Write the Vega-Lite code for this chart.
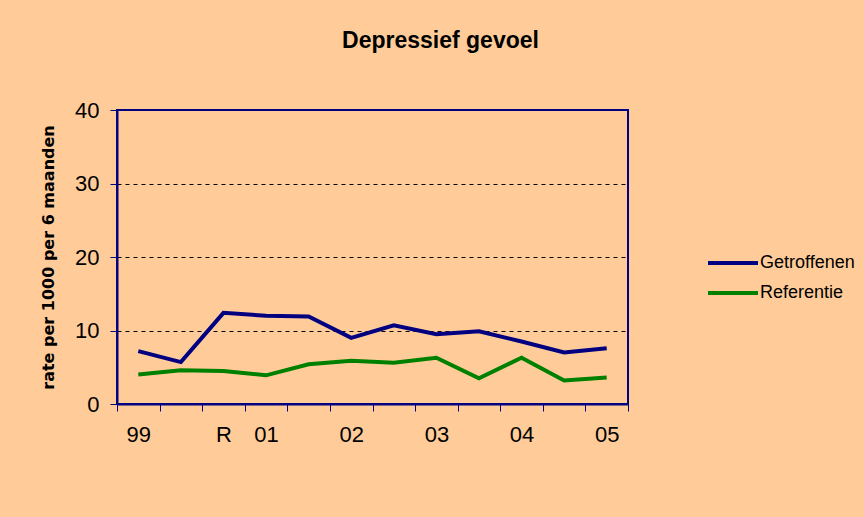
{
  "$schema": "https://vega.github.io/schema/vega-lite/v6.json",
  "width": 511,
  "height": 294,
  "autosize": {"type": "none"},
  "padding": {"left": 117, "top": 110, "right": 236, "bottom": 113},
  "background": "#FFCC99",
  "title": {
    "text": "Depressief gevoel",
    "font": "Liberation Sans",
    "fontSize": 23,
    "fontWeight": "bold",
    "color": "black",
    "anchor": "middle",
    "dx": 68,
    "offset": 46
  },
  "data": {
    "values": [
      {"t": 1, "reeks": "Getroffenen", "rate": 7.2},
      {"t": 2, "reeks": "Getroffenen", "rate": 5.7},
      {"t": 3, "reeks": "Getroffenen", "rate": 12.4},
      {"t": 4, "reeks": "Getroffenen", "rate": 12.0},
      {"t": 5, "reeks": "Getroffenen", "rate": 11.9},
      {"t": 6, "reeks": "Getroffenen", "rate": 9.0},
      {"t": 7, "reeks": "Getroffenen", "rate": 10.7},
      {"t": 8, "reeks": "Getroffenen", "rate": 9.5},
      {"t": 9, "reeks": "Getroffenen", "rate": 9.9},
      {"t": 10, "reeks": "Getroffenen", "rate": 8.5},
      {"t": 11, "reeks": "Getroffenen", "rate": 7.0},
      {"t": 12, "reeks": "Getroffenen", "rate": 7.6},
      {"t": 1, "reeks": "Referentie", "rate": 4.0},
      {"t": 2, "reeks": "Referentie", "rate": 4.6},
      {"t": 3, "reeks": "Referentie", "rate": 4.5},
      {"t": 4, "reeks": "Referentie", "rate": 3.9},
      {"t": 5, "reeks": "Referentie", "rate": 5.4},
      {"t": 6, "reeks": "Referentie", "rate": 5.9},
      {"t": 7, "reeks": "Referentie", "rate": 5.6},
      {"t": 8, "reeks": "Referentie", "rate": 6.3},
      {"t": 9, "reeks": "Referentie", "rate": 3.5},
      {"t": 10, "reeks": "Referentie", "rate": 6.3},
      {"t": 11, "reeks": "Referentie", "rate": 3.2},
      {"t": 12, "reeks": "Referentie", "rate": 3.6}
    ]
  },
  "mark": {"type": "line", "strokeWidth": 4},
  "encoding": {
    "x": {
      "field": "t",
      "type": "quantitative",
      "scale": {"domain": [0.5, 12.5], "nice": false, "zero": false},
      "axis": {
        "title": null,
        "values": [0.5, 1.5, 2.5, 3.5, 4.5, 5.5, 6.5, 7.5, 8.5, 9.5, 10.5, 11.5, 12.5],
        "labelOffset": 21.3,
        "labelOverlap": false,
        "labelFlush": false,
        "tickSize": 7,
        "tickColor": "#000080",
        "tickWidth": 1,
        "domainColor": "#000080",
        "domainWidth": 2,
        "grid": false,
        "labelFont": "Liberation Sans",
        "labelFontSize": 22,
        "labelColor": "black",
        "labelPadding": 13,
        "labelExpr": "datum.value == 0.5 ? '99' : datum.value == 2.5 ? 'R' : datum.value == 3.5 ? '01' : datum.value == 5.5 ? '02' : datum.value == 7.5 ? '03' : datum.value == 9.5 ? '04' : datum.value == 11.5 ? '05' : ''"
      }
    },
    "y": {
      "field": "rate",
      "type": "quantitative",
      "scale": {"domain": [0, 40], "nice": false},
      "axis": {
        "values": [0, 10, 20, 30, 40],
        "title": "rate per 1000 per 6 maanden",
        "titleFont": "DejaVu Sans",
        "titleFontSize": 16,
        "titleFontWeight": "bold",
        "titleColor": "black",
        "titlePadding": 18,
        "grid": true,
        "gridDash": [4, 4],
        "gridColor": {"condition": {"test": "datum.value == 0 || datum.value == 40", "value": "transparent"}, "value": "black"},
        "gridWidth": 1,
        "tickSize": 7,
        "tickColor": "#000080",
        "domainColor": "#000080",
        "domainWidth": 2,
        "labelFont": "Liberation Sans",
        "labelFontSize": 22,
        "labelColor": "black",
        "labelPadding": 11
      }
    },
    "color": {
      "field": "reeks",
      "type": "nominal",
      "scale": {"domain": ["Getroffenen", "Referentie"], "range": ["#000080", "#008000"]},
      "legend": {
        "title": null,
        "orient": "none",
        "legendX": 604,
        "legendY": 141,
        "symbolType": "M-2.5,0H2.5",
        "symbolSize": 400,
        "symbolStrokeWidth": 4,
        "labelOffset": 15,
        "labelFont": "Liberation Sans",
        "labelFontSize": 18,
        "labelColor": "black",
        "rowPadding": 9
      }
    }
  },
  "config": {
    "view": {"stroke": "#000080", "strokeWidth": 2}
  }
}
